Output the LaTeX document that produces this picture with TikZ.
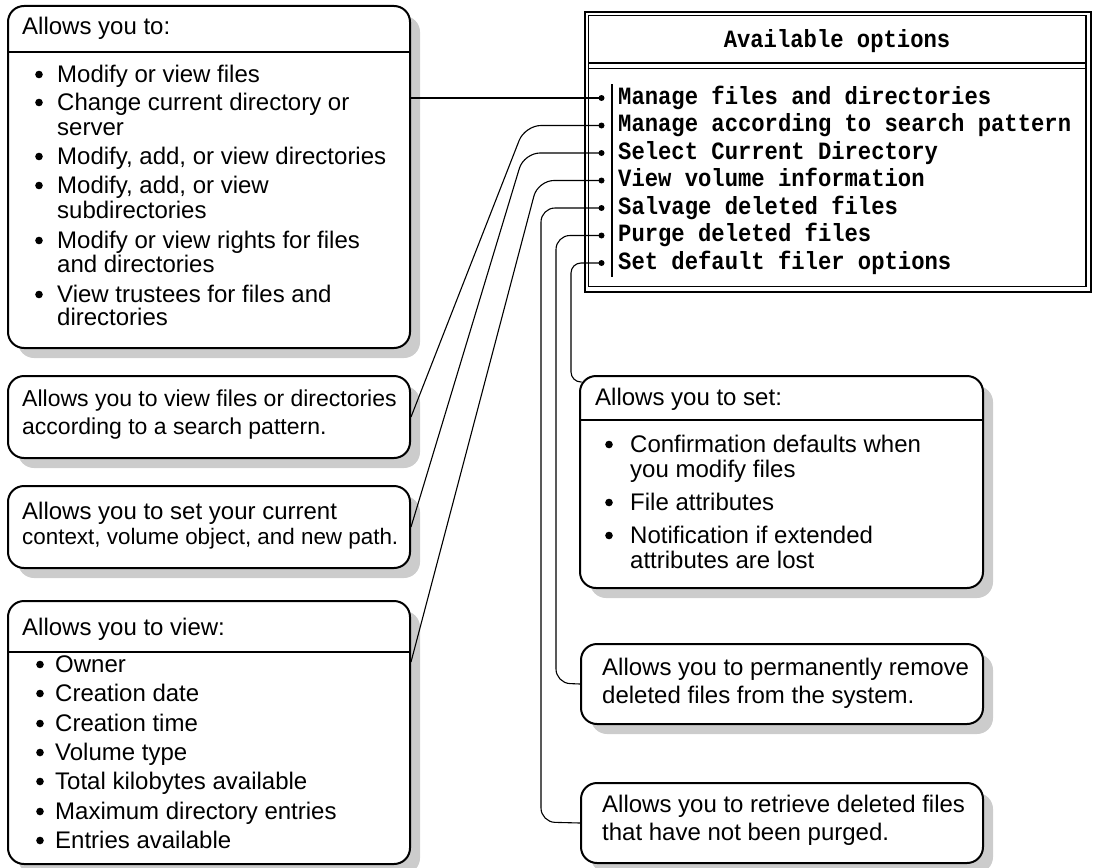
\documentclass[tikz,border=0pt]{standalone}
\usepackage{fontspec}
\setmainfont{Liberation Sans}
\newfontfamily\dosfont{Liberation Mono}
\usetikzlibrary{shadows,calc}
\definecolor{shadowgray}{RGB}{204,204,204}
\newcommand\tallmono[1]{\scalebox{1}[1.12]{#1}}
\begin{document}
\begin{tikzpicture}[x=1pt,y=-1pt,
  box/.style={draw, line width=2pt, fill=white, rounded corners=16pt, anchor=north west, inner sep=0pt,
    drop shadow={shadow xshift=10pt, shadow yshift=-10pt, fill=shadowgray, opacity=1}},
  divider/.style={line width=2pt},
  txt/.style={anchor=base west, inner sep=0pt, font=\fontsize{24}{28}\selectfont},
  mtxt/.style={anchor=base west, inner sep=0pt, font=\fontsize{23}{27}\selectfont},
  stxt/.style={anchor=base west, inner sep=0pt, font=\fontsize{22.4}{26}\selectfont},
  mono/.style={anchor=base west, inner sep=0pt, font=\dosfont\bfseries\fontsize{22.2}{26}\selectfont},
  conn/.style={line width=1.1pt},
  dotmark/.style={fill=black},
  bul/.style={fill=black}
]
\useasboundingbox (0,0) rectangle (1115,867);

% ---------- left boxes ----------
\node[box, minimum width=402pt, minimum height=342pt] (b1) at (7,5) {};
\node[box, minimum width=402pt, minimum height=82pt] (b2) at (7,375) {};
\node[box, minimum width=402pt, minimum height=82pt] (b3) at (7,485) {};
\node[box, minimum width=402pt, minimum height=263pt] (b4) at (7,600) {};

% ---------- right boxes ----------
\node[box, minimum width=403pt, minimum height=212pt] (b5) at (579,375) {};
\node[box, minimum width=402pt, minimum height=80pt] (b6) at (580,643) {};
\node[box, minimum width=402pt, minimum height=80pt] (b7) at (580,782) {};

% dividers
\draw[divider] (7,52) -- (409,52);
\draw[divider] (7,652) -- (409,652);
\draw[divider] (579,420) -- (982,420);

% ---------- box 1 text ----------
\node[txt] (h1) at (22,35) {Allows you to:};
\node[txt] (t11) at (57,82) {Modify or view files};
\node[txt] (t12) at (57,110) {Change current directory or};
\node[txt] (t12b) at (57,135) {server};
\node[txt] (t13) at (57,164) {Modify, add, or view directories};
\node[txt] (t14) at (57,193) {Modify, add, or view};
\node[txt] (t14b) at (57,218) {subdirectories};
\node[txt] (t15) at (57,248) {Modify or view rights for files};
\node[txt] (t15b) at (57,272) {and directories};
\node[txt] (t16) at (57,302) {View trustees for files and};
\node[txt] (t16b) at (57,325) {directories};
\foreach \yy in {82,110,164,193,248,302} \fill[bul] (39,\yy-7.5) circle (3.8);

% ---------- box 2 text ----------
\node[mtxt] (t21) at (22,406) {Allows you to view files or directories};
\node[mtxt] (t22) at (22,434) {according to a search pattern.};

% ---------- box 3 text ----------
\node[txt] (t31) at (22,519) {Allows you to set your current};
\node[stxt] (t32) at (22,544) {context, volume object, and new path.};

% ---------- box 4 text ----------
\node[txt] (h4) at (22,635) {Allows you to view:};
\node[txt] (t41) at (55,672) {Owner};
\node[txt] (t42) at (55,701) {Creation date};
\node[txt] (t43) at (55,731) {Creation time};
\node[txt] (t44) at (55,760) {Volume type};
\node[txt] (t45) at (55,789) {Total kilobytes available};
\node[txt] (t46) at (55,819) {Maximum directory entries};
\node[txt] (t47) at (55,848) {Entries available};
\foreach \yy in {672,701,731,760,789,819,848} \fill[bul] (40,\yy-7.5) circle (3.8);

% ---------- box 5 text ----------
\node[txt] (h5) at (595,405) {Allows you to set:};
\node[txt] (t51) at (630,452) {Confirmation defaults when};
\node[txt] (t51b) at (630,477) {you modify files};
\node[txt] (t52) at (630,510) {File attributes};
\node[txt] (t53) at (630,543) {Notification if extended};
\node[txt] (t53b) at (630,568) {attributes are lost};
\foreach \yy in {452,510,543} \fill[bul] (609,\yy-7.5) circle (3.8);

% ---------- box 6, 7 text ----------
\node[txt] (t61) at (602,675) {Allows you to permanently remove};
\node[txt] (t62) at (602,703) {deleted files from the system.};
\node[txt] (t71) at (602,812) {Allows you to retrieve deleted files};
\node[txt] (t72) at (602,840) {that have not been purged.};

% ---------- menu ----------
\node[draw, line width=2.4pt, minimum width=506pt, minimum height=280pt, anchor=north west, inner sep=0pt] (menu) at (584,11) {};
\draw[line width=1.3pt] (588.5,15.5) rectangle (1086,286.5);
\draw[line width=1.6pt] (588.5,63) -- (1086,63);
\draw[line width=1.3pt] (588.5,68.5) -- (1086,68.5);
\node[mono, anchor=base] (mtitle) at (837,48) {\tallmono{Available options}};
\draw[line width=1.6pt] (612,84) -- (612,277);
\node[mono] (m1) at (618,104) {\tallmono{Manage files and directories}};
\node[mono] (m2) at (618,131.5) {\tallmono{Manage according to search pattern}};
\node[mono] (m3) at (618,159) {\tallmono{Select Current Directory}};
\node[mono] (m4) at (618,186.5) {\tallmono{View volume information}};
\node[mono] (m5) at (618,214) {\tallmono{Salvage deleted files}};
\node[mono] (m6) at (618,241.5) {\tallmono{Purge deleted files}};
\node[mono] (m7) at (618,269) {\tallmono{Set default filer options}};

\coordinate (d1) at (601.5,98);
\coordinate (d2) at (601.5,125.5);
\coordinate (d3) at (601.5,153);
\coordinate (d4) at (601.5,180.5);
\coordinate (d5) at (601.5,208);
\coordinate (d6) at (601.5,235.5);
\coordinate (d7) at (601.5,263);
\coordinate (e7) at ($(b5.north west)+(2.5,7)$);

% ---------- connectors ----------
\draw[conn] (b1.east |- d1) -- (d1);
\draw[conn, rounded corners=16pt] (d2) -- (525,125.5) -- (b2.east);
\draw[conn, rounded corners=16pt] (d3) -- (524,153) -- (b3.east);
\draw[conn, rounded corners=16pt] (d4) -- (538,180.5) -- ($(b4.north east)+(0,62)$);
\draw[conn, rounded corners=14pt] (d5) -- (541,208) -- (541,822) -- (b7.west);
\draw[conn, rounded corners=14pt] (d6) -- (556,235.5) -- (556,683) -- (b6.west);
\draw[conn, rounded corners=10pt] (d7) -- (571,263) -- (571,382) -- (e7);
\foreach \d in {d1,d2,d3,d4,d5,d6,d7} \fill[dotmark] (\d) circle (3);
\end{tikzpicture}
\end{document}
